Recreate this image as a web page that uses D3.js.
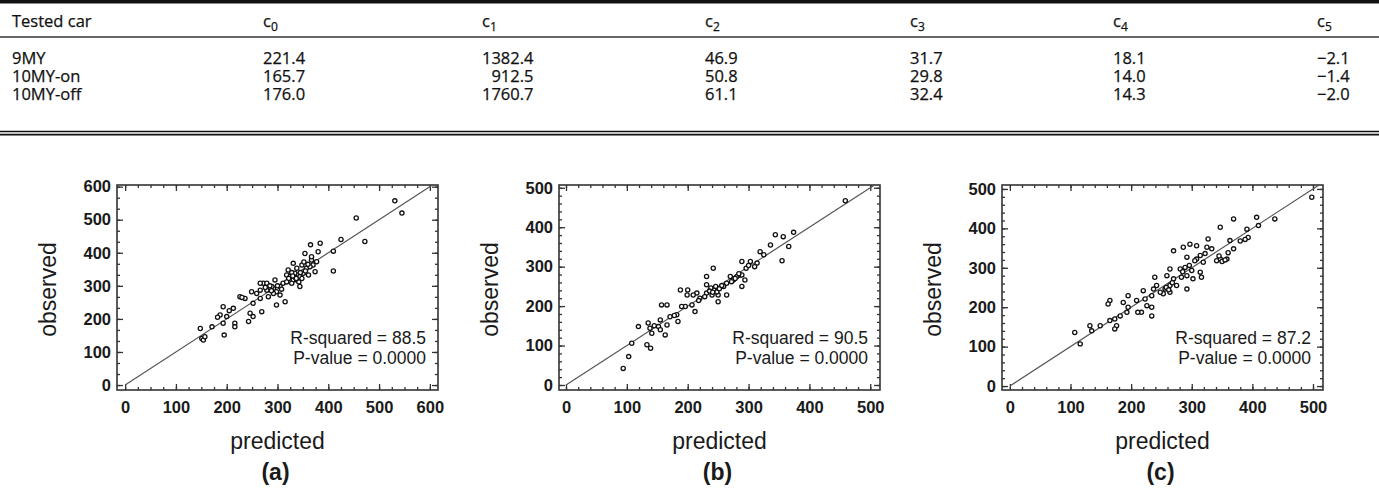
<!DOCTYPE html>
<html>
<head>
<meta charset="utf-8">
<script src="https://cdn.jsdelivr.net/npm/d3@7"></script>
<style>
  body { margin: 0; background: #fff; }
  svg { display: block; }
</style>
</head>
<body>
<div id="chart"></div>
<script>
// Table data
var cars = ["9MY", "10MY-on", "10MY-off"];
var coefIndex = [0, 1, 2, 3, 4, 5];
var coef9MY = [221.4, 1382.4, 46.9, 31.7, 18.1, -2.1];
var coef10MYon = [165.7, 912.5, 50.8, 29.8, 14.0, -1.4];
var coef10MYoff = [176.0, 1760.7, 61.1, 32.4, 14.3, -2.0];

// Scatter data: [predicted, observed]
var pointsA = [[531,557],[545,520],[455,505],[472,434],[425,440],[410,405],[410,345],[384,429],
  [365,424],[377,373],[374,343],[354,398],[331,368],[321,348],[318,333],[331,318],[344,298],
  [344,328],[357,353],[367,378],[311,308],[295,318],[305,298],[292,292],[279,287],[272,308],
  [266,287],[259,277],[249,282],[226,267],[236,262],[266,262],[252,247],[246,217],[252,207],
  [243,192],[269,222],[298,242],[315,252],[282,267],[193,237],[213,232],[187,212],[200,207],
  [216,187],[216,176],[193,187],[171,176],[148,171],[151,141],[154,136],[157,146],[195,151],
  [325,328],[334,338],[338,353],[348,363],[351,338],[361,333],[328,308],[338,318],[370,363],
  [367,388],[380,403],[364,358],[279,308],[289,298],[298,282],[292,277],[266,308],[305,272],
  [335,325],[342,312],[328,340],[355,345],[348,322],[322,322],[285,300],[300,300],[288,285],[276,295],
  [330,330],[337,322],[345,340],[352,372],[360,365],[318,312],[308,290],[230,265],[205,225],[182,205]];
var pointsB = [[459,467],[344,381],[357,376],[374,387],[366,351],[355,315],[336,355],[319,338],
  [303,313],[296,296],[314,309],[289,313],[281,275],[270,275],[275,266],[264,258],[259,250],
  [289,250],[294,266],[242,296],[231,275],[231,254],[237,241],[245,245],[250,228],[240,228],
  [231,233],[250,211],[264,228],[220,220],[215,233],[209,228],[199,228],[188,241],[200,241],
  [207,203],[212,186],[196,199],[157,203],[166,203],[190,199],[182,178],[184,161],[171,173],
  [155,165],[166,152],[152,148],[135,157],[138,144],[119,148],[141,131],[155,140],[163,127],
  [133,102],[139,93],[108,106],[103,72],[94,42],[286,279],[289,279],[243,240],[248,236],
  [238,246],[252,244],[236,238],[278,270],[284,282],[272,262],[246,250],[241,235],[256,252],
  [228,224],[218,214],[300,303],[310,300],[325,330],[178,176],[145,150]];
var pointsC = [[498,479],[437,424],[407,428],[410,407],[391,398],[369,424],[347,403],[393,377],
  [363,369],[369,348],[358,322],[347,322],[341,318],[327,373],[325,352],[308,356],[297,360],
  [286,352],[270,343],[314,331],[319,314],[308,322],[292,327],[289,301],[281,297],[300,293],
  [314,289],[292,280],[283,276],[302,272],[316,276],[270,272],[264,297],[259,280],[275,255],
  [264,255],[256,246],[253,234],[248,238],[264,238],[242,255],[239,276],[237,246],[234,229],
  [292,246],[220,242],[223,221],[226,204],[234,200],[234,178],[217,187],[211,187],[209,217],
  [195,229],[187,212],[195,200],[193,187],[182,178],[173,170],[176,153],[173,145],[165,217],
  [162,208],[165,166],[149,153],[132,153],[135,140],[107,136],[116,107],[333,348],[350,316],
  [355,320],[345,330],[258,250],[262,244],[268,262],[285,290],[296,306],[305,318],[322,336],
  [380,368],[388,372],[360,338]];

var ticksA = [0, 100, 200, 300, 400, 500, 600];
var ticksBC = [0, 100, 200, 300, 400, 500];
var rSquared = ["88.5", "90.5", "87.2"];
var pValues = ["0.0000", "0.0000", "0.0000"];
var panelLabels = ["(a)", "(b)", "(c)"];

var W = 1379, H = 498;
var svg = d3.select("#chart").append("svg")
    .attr("width", W)
    .attr("height", H);

// ---------- Table ----------
var tableFont = "'Open Sans', 'Liberation Sans', sans-serif";
var colX = [12, 263, 482, 705, 910, 1113, 1317];
var rowsY = [64, 82, 100];
var rows = [coef9MY, coef10MYon, coef10MYoff];

svg.append("rect").attr("x", 0).attr("y", 0).attr("width", W).attr("height", 3.5).attr("fill", "#111");
svg.append("line").attr("x1", 0).attr("x2", W).attr("y1", 37).attr("y2", 37)
    .attr("stroke", "#666").attr("stroke-width", 2);
svg.append("line").attr("x1", 0).attr("x2", W).attr("y1", 131.5).attr("y2", 131.5)
    .attr("stroke", "#111").attr("stroke-width", 1.6);
svg.append("line").attr("x1", 0).attr("x2", W).attr("y1", 134.6).attr("y2", 134.6)
    .attr("stroke", "#111").attr("stroke-width", 1.6);

var table = svg.append("g")
    .attr("font-family", tableFont)
    .attr("font-size", 16.5)
    .attr("fill", "#111")
    .attr("stroke", "#111")
    .attr("stroke-width", 0.25);

table.append("text").attr("x", colX[0]).attr("y", 27.3).text("Tested car");

coefIndex.forEach(function (k) {
  var t = table.append("text").attr("x", colX[k + 1]).attr("y", 27.3);
  t.append("tspan").text("c");
  t.append("tspan").attr("dy", 3.5).attr("font-size", 12).text(k);
});

table.selectAll(".car").data(cars).enter().append("text")
    .attr("class", "car")
    .attr("x", colX[0])
    .attr("y", function (d, i) { return rowsY[i]; })
    .text(function (d) { return d; });

function fmt(v) { return (v < 0 ? "\u2212" : "") + Math.abs(v).toFixed(1); }

coefIndex.forEach(function (k) {
  // right-align every column on its widest entry
  var texts = rows.map(function (r, i) {
    return table.append("text").attr("y", rowsY[i]).text(fmt(r[k]));
  });
  var maxW = d3.max(texts, function (t) { return t.node().getComputedTextLength(); });
  texts.forEach(function (t) {
    t.attr("x", colX[k + 1] + maxW).attr("text-anchor", "end");
  });
});

// ---------- Scatter panels ----------
var plotFont = "'Liberation Sans', Arial, sans-serif";
var panelLeft = [117, 559, 1002];
var plotTop = 185, plotW = 321, plotH = 205;

function drawPanel(i, pts, ticks, xDom, yDom, xMinor, yMinor) {
  var g = svg.append("g")
      .attr("transform", "translate(" + panelLeft[i] + "," + plotTop + ")");

  var x = d3.scaleLinear().domain(xDom).range([0, plotW]);
  var y = d3.scaleLinear().domain(yDom).range([plotH, 0]);

  var xm = d3.range(0, xDom[1], xMinor);
  var ym = d3.range(0, yDom[1], yMinor);

  function style(a) {
    a.select(".domain").remove();
    a.selectAll("line").attr("stroke", "#333").attr("stroke-width", 1.3);
    a.attr("font-family", plotFont).attr("font-size", 16.5).attr("font-weight", "bold");
    a.selectAll("text").attr("fill", "#1a1a1a");
  }

  // minor ticks on all sides
  g.append("g").attr("transform", "translate(0," + plotH + ")")
      .call(d3.axisBottom(x).tickValues(xm).tickSizeInner(-3).tickSizeOuter(0).tickFormat("")).call(style);
  g.append("g")
      .call(d3.axisTop(x).tickValues(xm).tickSizeInner(-3).tickSizeOuter(0).tickFormat("")).call(style);
  g.append("g")
      .call(d3.axisLeft(y).tickValues(ym).tickSizeInner(-3).tickSizeOuter(0).tickFormat("")).call(style);
  g.append("g").attr("transform", "translate(" + plotW + ",0)")
      .call(d3.axisRight(y).tickValues(ym).tickSizeInner(-3).tickSizeOuter(0).tickFormat("")).call(style);

  // major ticks
  g.append("g").attr("transform", "translate(0," + plotH + ")")
      .call(d3.axisBottom(x).tickValues(ticks).tickSizeInner(-6).tickSizeOuter(0).tickPadding(11)).call(style);
  g.append("g")
      .call(d3.axisTop(x).tickValues(ticks).tickSizeInner(-6).tickSizeOuter(0).tickFormat("")).call(style);
  g.append("g")
      .call(d3.axisLeft(y).tickValues(ticks).tickSizeInner(-6).tickSizeOuter(0).tickPadding(6)).call(style);
  g.append("g").attr("transform", "translate(" + plotW + ",0)")
      .call(d3.axisRight(y).tickValues(ticks).tickSizeInner(-6).tickSizeOuter(0).tickFormat("")).call(style);

  // frame
  g.append("rect")
      .attr("width", plotW).attr("height", plotH)
      .attr("fill", "none").attr("stroke", "#333").attr("stroke-width", 1.6);

  // 1:1 line
  var m = Math.min(xDom[1], yDom[1]);
  var diag = d3.line().x(function (d) { return x(d); }).y(function (d) { return y(d); });
  g.append("path")
      .attr("d", diag([0, m]))
      .attr("fill", "none")
      .attr("stroke", "#555")
      .attr("stroke-width", 1.2);

  // points
  g.selectAll(".pt").data(pts).enter().append("circle")
      .attr("class", "pt")
      .attr("r", 2.1)
      .attr("cx", function (d) { return x(d[0]); })
      .attr("cy", function (d) { return y(d[1]); })
      .attr("fill", "#fff")
      .attr("stroke", "#111")
      .attr("stroke-width", 1.3);

  // statistics
  var stats = g.append("g")
      .attr("font-family", plotFont)
      .attr("font-size", 17.5)
      .attr("fill", "#1a1a1a")
      .attr("text-anchor", "end");
  stats.append("text").attr("x", plotW - 12).attr("y", 159).text("R-squared = " + rSquared[i]);
  stats.append("text").attr("x", plotW - 12).attr("y", 178.5).text("P-value = " + pValues[i]);

  // axis titles
  g.append("text")
      .attr("x", plotW / 2).attr("y", 264)
      .attr("text-anchor", "middle")
      .attr("font-family", plotFont).attr("font-size", 23)
      .attr("fill", "#1a1a1a")
      .text("predicted");
  g.append("text")
      .attr("transform", "translate(-61," + (plotH / 2 + 2) + ") rotate(-90)")
      .attr("text-anchor", "middle")
      .attr("font-family", plotFont).attr("font-size", 23)
      .attr("fill", "#1a1a1a")
      .text("observed");
  g.append("text")
      .attr("x", plotW / 2 - 2).attr("y", 295)
      .attr("text-anchor", "middle")
      .attr("font-family", plotFont).attr("font-size", 23).attr("font-weight", "bold")
      .attr("fill", "#1a1a1a")
      .text(panelLabels[i]);
}

drawPanel(0, pointsA, ticksA, [-16, 616], [-15, 605], 25, 100 / 3);
drawPanel(1, pointsB, ticksBC, [-11.5, 516], [-12.7, 507], 20, 20);
drawPanel(2, pointsC, ticksBC, [-13, 516.5], [-10, 510], 20, 20);
</script>
</body>
</html>
